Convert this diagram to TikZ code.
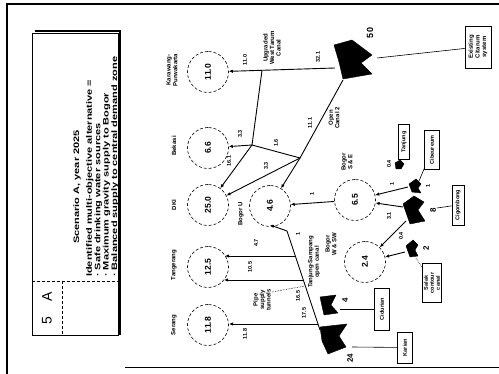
\documentclass[tikz,border=0pt]{standalone}
\usepackage{fontspec}
\setmainfont{Liberation Sans}
\usetikzlibrary{arrows.meta}
\begin{document}
\begin{tikzpicture}[x=1pt,y=-1pt,
  lbl/.style={font=\fontsize{6}{6.6}\selectfont\bfseries, rotate=90, inner sep=0.5pt, align=center},
  val/.style={font=\fontsize{5.5}{6}\selectfont\bfseries, rotate=90, inner sep=0.3pt},
  big/.style={font=\fontsize{8}{8}\selectfont\bfseries, rotate=90, inner sep=0.3pt},
  dem/.style={circle, draw, densely dashed, line width=0.6pt, minimum size=41pt, inner sep=0pt,
              font=\fontsize{8.5}{9}\selectfont\bfseries, rotate=90},
  srcbox/.style={draw, line width=0.7pt, rotate=90, inner sep=1.2pt,
                 font=\fontsize{5.5}{6}\selectfont\bfseries, align=center},
  flow/.style={-{Latex[length=4pt,width=3.4pt]}, line width=0.9pt},
  pipe/.style={line width=0.9pt},
  lead/.style={line width=0.6pt},
  blob/.style={fill=black, draw=black, line join=round},
  ttl/.style={font=\fontsize{11}{11.7}\selectfont\bfseries, rotate=90, yscale=0.72}
]
\useasboundingbox (0,0) rectangle (499,374);
% frame
\draw[line width=1.1pt] (7,374) -- (7,4) -- (499,4);
\draw[line width=0.9pt] (125,367) -- (499,367);
% title box
\draw[line width=0.6pt] (32,33) rectangle (118,335);
\draw[line width=2.6pt] (35,31) -- (120,31) -- (120,335);
\draw[densely dashed, line width=0.6pt] (32,281) -- (118,281);
\draw[densely dashed, line width=0.6pt] (62,281) -- (62,335);
\node[font=\fontsize{14}{14}\selectfont, rotate=90] (tabA) at (47,297) {A};
\node[font=\fontsize{14}{14}\selectfont, rotate=90] (tab5) at (47,321) {5};
\node[ttl] (title) at (77,187) {Scenario A, year 2025};
\node[ttl, anchor=north west, align=left, inner sep=0pt] (obj) at (86,277)
  {Identified multi-objective alternative =\\ · Safe drinking water sources\\ · Maximum gravity supply to Bogor\\ · Balanced supply to central demand zone};
% demand circles
\node[dem] (kp)  at (208,72)  {11.0};
\node[dem] (bek) at (208,148) {6.6};
\node[dem] (dki) at (208,205) {25.0};
\node[dem] (tng) at (208,267) {12.5};
\node[dem] (ser) at (208,325) {11.8};
\node[dem] (bu)  at (270,206) {4.6};
\node[dem] (bse) at (355,200) {6.5};
\node[dem] (bws) at (365,262) {2.4};
% region labels
\node[lbl] (kpl)  at (172,70)  {Karawang-\\Purwakarta};
\node[lbl] (bekl) at (174,146) {Bekasi};
\node[lbl] (dkil) at (174,205) {DKI};
\node[lbl] (tngl) at (174,265) {Tangerang};
\node[lbl] (serl) at (174,325) {Serang};
\node[lbl] (bul)  at (241,214) {Bogor U};
\node[lbl] (bsel) at (347,162) {Bogor\\S \& E};
\node[lbl] (bwsl) at (331,244) {Bogor\\W \& SW};
% West Tarum canal system
\fill[blob] (334,45) -- (352,40) -- (372,55) -- (361,63) -- (372,74) -- (343,79) -- (339,62) -- cycle;
\node[font=\fontsize{9}{9}\selectfont\bfseries, rotate=90] (v50) at (370,33) {50};
\node[srcbox, minimum width=42pt, minimum height=26pt, font=\fontsize{6}{6.6}\selectfont\bfseries] (exist) at (478,47) {Existing\\Citarum\\system};
\coordinate (x50) at (377,58);
\draw[lead] (x50) -- (exist);
\coordinate (wtcs) at (335,68);
\coordinate (b0) at (262,70.5);
\coordinate (j1) at (252,145);
\coordinate (j2) at (300,158);
\coordinate (oc) at (343,80);
\draw[flow] (wtcs) -- (kp);
\draw[pipe] (b0) -- (j1);
\draw[flow] (j1) -- (bek);
\draw[flow] (j1) -- (dki);
\draw[pipe] (j1) -- (j2);
\draw[pipe] (oc) -- (j2);
\draw[flow] (j2) -- (dki);
\draw[flow] (j2) -- (bu);
\draw[flow] (bse) -- (bu);
\node[lbl] (wtcl) at (272,48) {Upgraded\\West Tarum\\Canal};
\node[val] (v110) at (245,60) {11.0};
\node[val] (v321) at (318,57) {32.1};
\node[val] (v33a) at (240,134) {3.3};
\node[val] (v161) at (229,161) {16.1};
\node[val] (v16) at (276,143) {1.6};
\node[val] (v111) at (310,123) {11.1};
\node[lbl] (ocl) at (334,118) {Open\\Canal 2};
\node[val] (v33b) at (266,166) {3.3};
\node[val] (v1a) at (312,194) {1};
% Tanjung-Sampang open canal
\coordinate (ts1) at (287,231);
\coordinate (ts2) at (320,330);
\coordinate (tsA) at (270,225);
\draw[pipe] (ts2) -- (ts1);
\draw[flow] (ts1) -- (tsA);
\coordinate (c1) at (295,256); \coordinate (e1) at (225,256);
\coordinate (c2) at (303,280); \coordinate (e2) at (224,280);
\coordinate (c3) at (318,324); \coordinate (e3) at (229,324);
\draw[flow] (c1) -- (e1);
\draw[flow] (c2) -- (e2);
\draw[flow] (c3) -- (e3);
\node[lbl] (tsl) at (314,262) {Tanjung-Sampang\\open canal};
\node[lbl] (pipel) at (262,300) {Pipe\\supply\\tunnels};
\coordinate (pl1) at (272,292); \coordinate (pl2) at (305,286);
\draw[lead, densely dotted] (pl1) -- (pl2);
\node[val] (v105) at (250,267) {10.5};
\node[val] (v165) at (298,296) {16.5};
\node[val] (v175) at (304,313) {17.5};
\node[val] (v118) at (245,334) {11.8};
\node[val] (v47) at (256,243) {4.7};
\node[val] (v1b) at (298,234) {1};
% western sources
\fill[blob] (320,297) -- (336,295) -- (331,305) -- (338,313) -- (324,315) -- cycle;
\node[big] (v4) at (345,300) {4};
\node[srcbox, minimum width=42pt, minimum height=15pt] (cid) at (382,309) {Cidurian};
\coordinate (x4) at (340,309);
\draw[lead] (x4) -- (cid);
\fill[blob] (320,327) -- (347,324) -- (339,336) -- (346,347) -- (328,354) -- (322,341) -- cycle;
\node[big] (v24) at (350,358) {24};
\node[srcbox, minimum width=31pt, minimum height=15pt] (kar) at (405,347.5) {Karian};
\coordinate (x24) at (352,347);
\draw[lead] (x24) -- (kar);
% Bogor sources
\fill[blob] (395,163) -- (400,160) -- (404,164) -- (401,169) -- (396,169) -- cycle;
\node[val] (v04a) at (389,164) {0.4};
\node[srcbox, minimum width=35pt, minimum height=11pt] (tj) at (404,142) {Tanjung};
\fill[blob] (409,184) -- (416,179) -- (421,184) -- (418,188) -- (421,193) -- (412,192) -- cycle;
\node[val] (v1c) at (428,186) {1};
\node[srcbox, minimum width=39pt, minimum height=15pt] (cib) at (432,150) {Cibeureum};
\coordinate (x1) at (419,181);
\draw[lead] (x1) -- (cib);
\coordinate (s1) at (408,187);
\draw[flow] (s1) -- (bse);
\node[val] (v1d) at (392,184) {1};
\fill[blob] (403,204) -- (414,196) -- (424,202) -- (418,210) -- (425,221) -- (410,224) -- cycle;
\node[big] (v8) at (433,210) {8};
\node[srcbox, minimum width=40pt, minimum height=12pt] (cig) at (458,205) {Cigombong};
\coordinate (x8) at (437,208);
\draw[lead] (x8) -- (cig);
\coordinate (s8a) at (403,207);
\draw[flow] (s8a) -- (bse);
\node[val] (v31) at (389,216) {3.1};
\coordinate (s8b) at (406,221);
\draw[flow] (s8b) -- (bws);
\node[val] (v04b) at (401,236) {0.4};
\fill[blob] (406,246) -- (413,240) -- (418,245) -- (415,250) -- (418,256) -- (410,257) -- cycle;
\node[big] (v2) at (426,248) {2};
\coordinate (s2) at (405,252);
\draw[flow] (s2) -- (bws);
\node[srcbox, minimum width=39pt, minimum height=17pt] (sal) at (432,283) {Salak\\contour\\canal};
\coordinate (x2) at (416,258);
\draw[lead, densely dotted] (x2) -- (sal);
\end{tikzpicture}
\end{document}
